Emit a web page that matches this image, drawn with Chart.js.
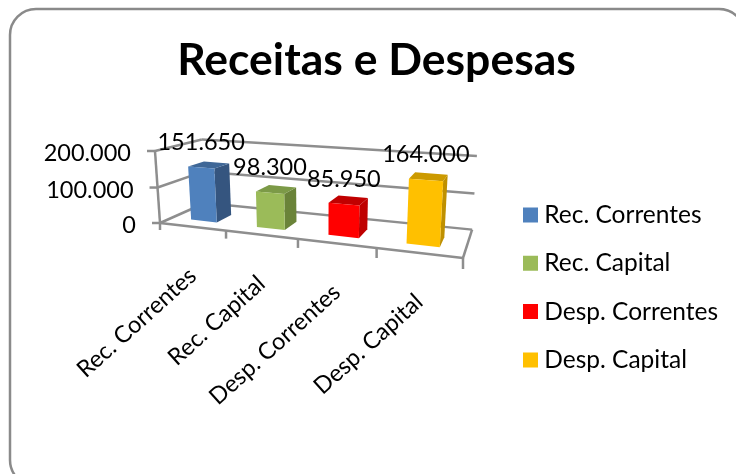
<!DOCTYPE html>
<html><head><meta charset="utf-8">
<style>html,body{margin:0;padding:0;background:#fff;overflow:hidden}canvas{display:block}</style>
<script src="https://cdn.jsdelivr.net/npm/chart.js@4"></script>
</head><body><canvas id="c" width="736" height="474"></canvas>
<script>
const categories = ['Rec. Correntes','Rec. Capital','Desp. Correntes','Desp. Capital'];
const values = [151650,98300,85950,164000];
const frontColors = ['#4F81BD','#9BBB59','#FF0000','#FFC000'];
const sideColors = ['#35557F','#6A8339','#BF0000','#BF9000'];
const topColors = ['#3F6797','#7C9A47','#C00000','#CC9A00'];
const yTicks = [0,100000,200000];
const FONT = 'Lato, Carlito, sans-serif';
const fmt = v => String(v).replace(/\B(?=(\d{3})+$)/g,'.');

// Perspective box: projective map of the plot cube (u along categories, v along values, d into depth)
const O=[160,223], UE=[463,258], VE=[155,151], DE=[205,203];
const wU=.836, wV=.97, wD=1.14;
function proj(u,v,d){
  const s=1-u-v-d;
  const X=s*O[0]+u*wU*UE[0]+v*wV*VE[0]+d*wD*DE[0];
  const Y=s*O[1]+u*wU*UE[1]+v*wV*VE[1]+d*wD*DE[1];
  const W=s+u*wU+v*wV+d*wD;
  return [X/W,Y/W];
}
const D0=.25, D1=.6;
let theChart=null;
const norm = {
  u:px=>{const s=theChart.scales.x;return (px-s.left)/s.width;},
  v:px=>{const s=theChart.scales.y;return (s.bottom-px)/s.height;}
};
function poly(ctx,pts,fill){
  ctx.beginPath();pts.forEach((p,i)=>i?ctx.lineTo(p[0],p[1]):ctx.moveTo(p[0],p[1]));ctx.closePath();
  ctx.fillStyle=fill;ctx.fill();
}
function seg(ctx,a,b){ctx.beginPath();ctx.moveTo(a[0],a[1]);ctx.lineTo(b[0],b[1]);ctx.stroke();}

// 3D bars, positioned from the values the library's scales computed
Chart.BarElement.prototype.draw=function(ctx){
  const i=this.$context.dataIndex;
  const u0=norm.u(this.x-this.width/2),u1=norm.u(this.x+this.width/2),v=norm.v(this.y);
  poly(ctx,[proj(u1,0,D0),proj(u1,v,D0),proj(u1,v,D1),proj(u1,0,D1)],sideColors[i]);
  poly(ctx,[proj(u0,v,D0),proj(u1,v,D0),proj(u1,v,D1),proj(u0,v,D1)],topColors[i]);
  poly(ctx,[proj(u0,0,D0),proj(u1,0,D0),proj(u1,v,D0),proj(u0,v,D0)],this.options.backgroundColor);
};

const scene={
  id:'scene',
  beforeDraw(chart){
    theChart=chart;
    const ctx=chart.ctx;
    // frame
    ctx.save();ctx.strokeStyle='#8A8A8A';ctx.lineWidth=2.5;
    ctx.beginPath();ctx.roundRect(10,9,735,477,26);ctx.stroke();ctx.restore();
    // legend position
    const lg=chart.legend, pad=lg.options.labels.padding;
    lg.left=529-pad;lg.top=202.75-pad;lg.bottom=474;
    // tick labels follow the perspective; widen the scale boxes that clip them
    const xs=chart.scales.x, ys=chart.scales.y;
    xs.top=0;xs.bottom=474;ys.left=0;ys.right=736;
    xs.getLabelItems(chart.chartArea).forEach((it,i)=>{
      const p=proj((i+.5)/categories.length,0,0);
      it.options.translation=[p[0]-9,p[1]+35];
    });
    ys.getLabelItems(chart.chartArea).forEach((it,i)=>{
      const p=proj(0,norm.v(ys.getPixelForValue(ys.ticks[i].value)),0);
      it.options.translation=[p[0]-24,p[1]+2.5];
    });
  },
  beforeDatasetsDraw(chart){
    const ctx=chart.ctx, ys=chart.scales.y;
    ctx.save();ctx.strokeStyle='#8E8E8E';ctx.lineWidth=2.5;
    ys.ticks.forEach(t=>{
      const v=norm.v(ys.getPixelForValue(t.value));
      const f=proj(0,v,0),b=proj(0,v,1),r=proj(1,v,1);
      seg(ctx,f,b);seg(ctx,b,r);
      seg(ctx,[f[0]-8,f[1]],f);
    });
    seg(ctx,proj(0,0,0),proj(0,1,0));
    seg(ctx,proj(0,0,0),proj(1,0,0));
    seg(ctx,proj(1,0,0),proj(1,0,1));
    const n=categories.length;
    for(let i=0;i<=n;i++){
      const p=proj(i/n,0,0);
      seg(ctx,p,[p[0],p[1]+7+i]);
    }
    ctx.restore();
  },
  afterDatasetsDraw(chart){
    const ctx=chart.ctx, meta=chart.getDatasetMeta(0);
    ctx.save();ctx.fillStyle='#000';ctx.font='23.5px '+FONT;ctx.textAlign='center';ctx.textBaseline='middle';
    meta.data.forEach((bar,i)=>{
      const p=proj(norm.u(bar.x),norm.v(bar.y),D0);
      ctx.fillText(fmt(values[i]),p[0],p[1]-25);
    });
    ctx.restore();
  }
};

new Chart(document.getElementById('c'),{
  type:'bar',
  data:{labels:categories,datasets:[{label:'Receitas e Despesas',data:values,backgroundColor:frontColors,categoryPercentage:.4,barPercentage:1}]},
  plugins:[scene],
  options:{
    responsive:false,animation:false,
    layout:{padding:{left:17,right:0,top:0,bottom:0}},
    plugins:{
      title:{display:true,text:'Receitas e Despesas',color:'#000',font:{family:FONT,size:44.5,weight:'bold'},padding:{top:34,bottom:40}},
      legend:{display:true,position:'right',align:'start',
        labels:{font:{family:FONT,size:24.5},color:'#000',boxWidth:3,boxHeight:3,padding:23.8,
          generateLabels:()=>categories.map((t,i)=>({text:t,fillStyle:frontColors[i],strokeStyle:frontColors[i],lineWidth:12,lineJoin:'miter',datasetIndex:0,index:i,hidden:false}))}},
      tooltip:{enabled:false}
    },
    scales:{
      x:{grid:{display:false},border:{display:false},
        ticks:{color:'#000',autoSkip:false,minRotation:42,maxRotation:42,font:{family:FONT,size:23.5}}},
      y:{min:0,max:200000,grid:{display:false},border:{display:false},
        afterBuildTicks:s=>{s.ticks=yTicks.map(v=>({value:v}));},
        ticks:{color:'#000',callback:v=>fmt(v),font:{family:FONT,size:23.5}}}
    }
  }
});
</script></body></html>
